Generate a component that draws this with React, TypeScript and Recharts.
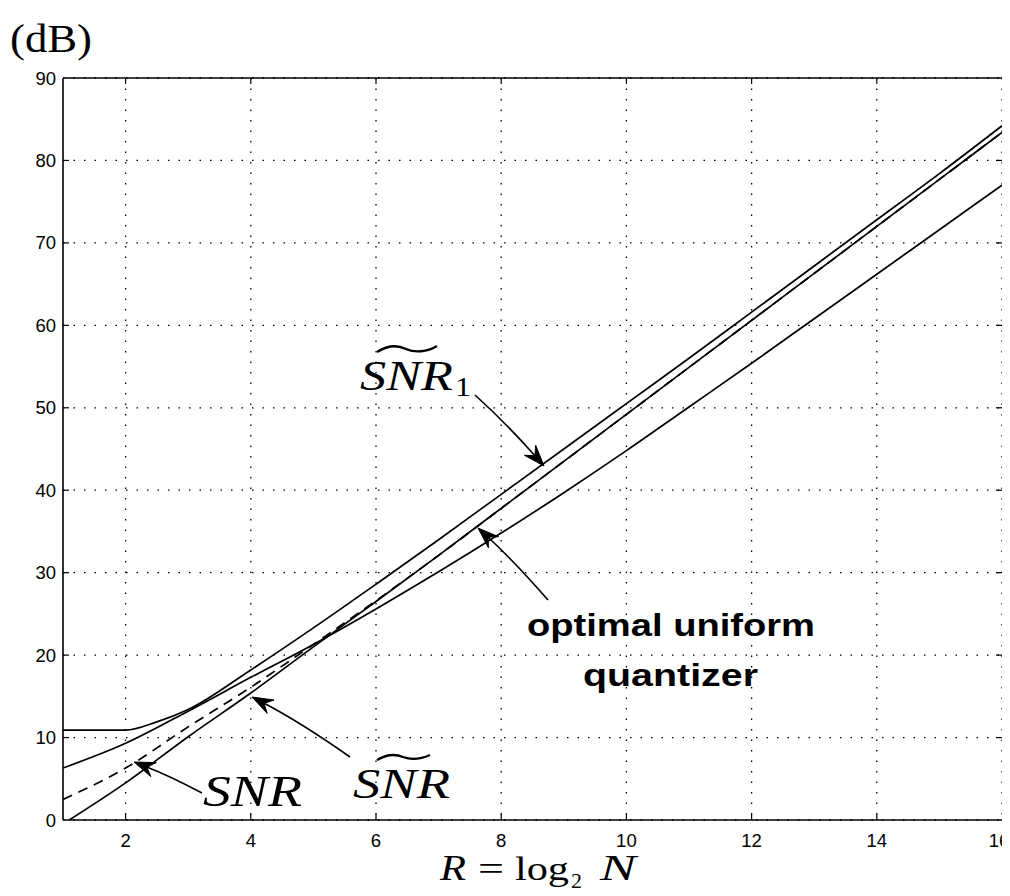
import React from 'react';
import { LineChart, Line, XAxis, YAxis, CartesianGrid, ReferenceLine } from 'recharts';

// ---- data ----
const xTicks = [2, 4, 6, 8, 10, 12, 14, 16];
const yTicks = [0, 10, 20, 30, 40, 50, 60, 70, 80, 90];

const snr1TildeX = [1, 2, 2.5, 3, 4, 5, 6, 7, 8, 9, 10, 11, 12, 13, 14, 15, 16];
const snr1TildeY = [10.9, 10.9, 11.9, 13.4, 18.2, 23.3, 28.6, 34.0, 39.5, 45.0, 50.5, 56.0, 61.6, 67.2, 72.8, 78.4, 84.2];

const uniformX = [1, 2, 3, 4, 5, 6, 7, 8, 9, 10, 11, 12, 13, 14, 15, 16];
const uniformY = [6.3, 9.3, 13.2, 17.3, 21.3, 25.6, 30.1, 34.8, 39.7, 44.8, 50.1, 55.4, 60.8, 66.2, 71.6, 77.0];

const snrX = [1.1, 2, 3, 4, 5, 6, 7, 8, 9, 10, 11, 12, 13, 14, 15, 16];
const snrY = [0, 4.5, 10.1, 15.4, 21.0, 26.5, 32.1, 37.8, 43.5, 49.2, 54.9, 60.6, 66.3, 72.0, 77.7, 83.4];

const snrTildeX = [1, 2, 3, 4, 5, 6, 7, 8, 9, 10, 11, 12, 13, 14, 15, 16];
const snrTildeY = [2.5, 6.3, 11.3, 16.1, 21.3, 26.6, 32.1, 37.8, 43.5, 49.2, 54.9, 60.6, 66.3, 72.0, 77.7, 83.4];

const zip = (xs: number[], ys: number[]) => xs.map((x, i) => ({ x, y: ys[i] }));

// ---- layout ----
const W = 1002;
const H = 880;
const MARGIN = { top: 70, right: 8, left: 0, bottom: 38 };
const Y_AXIS_W = 55;
const X_AXIS_H = 30;
const PLOT_W = W - MARGIN.left - MARGIN.right - Y_AXIS_W;
const PLOT_H = H - MARGIN.top - MARGIN.bottom - X_AXIS_H;

const SANS = '"Liberation Sans", Arial, Helvetica, sans-serif';
const SERIF = '"Liberation Serif", "Times New Roman", serif';

const YTick = (props: any) => {
  const { x, y, payload } = props;
  const v = payload.value;
  const inner = v !== 0 && v !== 90;
  return (
    <g>
      <text x={x - 7} y={y} dy={6.5} textAnchor="end" fontFamily={SANS} fontSize={18.5} fill="#000">
        {v}
      </text>
      {inner && <line x1={x} x2={x + 6} y1={y} y2={y} stroke="#000" strokeWidth={1.2} />}
      {inner && <line x1={x + PLOT_W} x2={x + PLOT_W - 6} y1={y} y2={y} stroke="#000" strokeWidth={1.2} />}
    </g>
  );
};

const XTick = (props: any) => {
  const { x, y, payload } = props;
  const v = payload.value;
  const inner = v !== 16;
  return (
    <g>
      <text x={inner ? x : x - 3} y={y + 27} textAnchor="middle" fontFamily={SANS} fontSize={18.5} fill="#000">
        {v}
      </text>
      {inner && <line x1={x} x2={x} y1={y} y2={y - 6} stroke="#000" strokeWidth={1.2} />}
      {inner && <line x1={x} x2={x} y1={y - PLOT_H} y2={y - PLOT_H + 6} stroke="#000" strokeWidth={1.2} />}
    </g>
  );
};

type Pt = [number, number];
const Arrow = ({ tail, ctrl, tip }: { tail: Pt; ctrl: Pt; tip: Pt }) => {
  const dx = tip[0] - ctrl[0];
  const dy = tip[1] - ctrl[1];
  const len = Math.hypot(dx, dy);
  const ux = dx / len;
  const uy = dy / len;
  const nx = -uy;
  const ny = ux;
  const L = 21;
  const w = 7.5;
  const back: Pt = [tip[0] - ux * L, tip[1] - uy * L];
  const notch: Pt = [tip[0] - ux * L * 0.65, tip[1] - uy * L * 0.65];
  const head = `M${tip[0]},${tip[1]} L${back[0] + nx * w},${back[1] + ny * w} L${notch[0]},${notch[1]} L${back[0] - nx * w},${back[1] - ny * w} Z`;
  return (
    <g>
      <path d={`M${tail[0]},${tail[1]} Q${ctrl[0]},${ctrl[1]} ${notch[0]},${notch[1]}`} fill="none" stroke="#000" strokeWidth={1.6} />
      <path d={head} fill="#000" stroke="#000" strokeWidth={1} />
    </g>
  );
};

const Overlay = () => (
  <svg
    width={1010}
    height={896}
    style={{ position: 'absolute', left: -8, top: -8, pointerEvents: 'none', overflow: 'visible' }}
  >
    {/* (dB) */}
    <text x={10} y={52} fontFamily={SERIF} fontSize={40} textLength={82} lengthAdjust="spacingAndGlyphs" fill="#000">
      (dB)
    </text>

    {/* x label: R = log2 N */}
    <g fill="#000" fontFamily={SERIF}>
      <text x={440} y={880} fontSize={36} fontStyle="italic" textLength={26} lengthAdjust="spacingAndGlyphs">R</text>
      <text x={478} y={880} fontSize={34} textLength={26} lengthAdjust="spacingAndGlyphs">=</text>
      <text x={515} y={880} fontSize={34} textLength={54} lengthAdjust="spacingAndGlyphs">log</text>
      <text x={571} y={888} fontSize={22}>2</text>
      <text x={600} y={880} fontSize={36} fontStyle="italic" textLength={36} lengthAdjust="spacingAndGlyphs">N</text>
    </g>

    {/* SNR~_1 */}
    <g fill="#000" fontFamily={SERIF}>
      <text x={360} y={390} fontSize={42} fontStyle="italic" textLength={93} lengthAdjust="spacingAndGlyphs">SNR</text>
      <text x={455} y={396} fontSize={28} textLength={16} lengthAdjust="spacingAndGlyphs">1</text>
    </g>
    <path d="M377,352 C388,345 398,345 406,349 C415,353 427,352 437,346" fill="none" stroke="#000" strokeWidth={2.4} />

    {/* SNR */}
    <text x={203} y={806} fill="#000" fontFamily={SERIF} fontSize={44} fontStyle="italic" textLength={99} lengthAdjust="spacingAndGlyphs">SNR</text>

    {/* SNR~ */}
    <text x={353} y={798} fill="#000" fontFamily={SERIF} fontSize={42} fontStyle="italic" textLength={97} lengthAdjust="spacingAndGlyphs">SNR</text>
    <path d="M377,760 C387,754 396,754 403,757 C411,760 421,759 430,755" fill="none" stroke="#000" strokeWidth={2.4} />

    {/* optimal uniform quantizer */}
    <text x={527} y={636} fill="#000" fontFamily={SANS} fontWeight="bold" fontSize={32} textLength={288} lengthAdjust="spacingAndGlyphs">optimal uniform</text>
    <text x={583} y={686} fill="#000" fontFamily={SANS} fontWeight="bold" fontSize={32} textLength={175} lengthAdjust="spacingAndGlyphs">quantizer</text>

    {/* arrows */}
    <Arrow tail={[475, 395]} ctrl={[505, 422]} tip={[544, 466]} />
    <Arrow tail={[548, 600]} ctrl={[515, 562]} tip={[478, 528]} />
    <Arrow tail={[350, 757]} ctrl={[300, 722]} tip={[252, 697]} />
    <Arrow tail={[202, 793]} ctrl={[170, 776]} tip={[134, 762]} />
  </svg>
);

export default function App() {
  return (
    <div style={{ position: 'relative', width: W, height: H }}>
      <LineChart width={W} height={H} margin={MARGIN} style={{ overflow: 'visible' }}>
        <CartesianGrid
          stroke="#000"
          strokeWidth={1.3}
          strokeDasharray="1.5 9"
          horizontalValues={yTicks}
          verticalValues={xTicks}
        />
        <XAxis
          type="number"
          dataKey="x"
          domain={[1, 16]}
          ticks={xTicks}
          allowDataOverflow
          height={X_AXIS_H}
          tickLine={false}
          tickSize={0}
          tickMargin={0}
          tick={<XTick />}
          axisLine={{ stroke: '#000', strokeWidth: 1.6 }}
          interval={0}
        />
        <YAxis
          type="number"
          dataKey="y"
          domain={[0, 90]}
          ticks={yTicks}
          allowDataOverflow
          width={Y_AXIS_W}
          tickLine={false}
          tickSize={0}
          tickMargin={0}
          tick={<YTick />}
          axisLine={{ stroke: '#000', strokeWidth: 1.6 }}
          interval={0}
        />
        <ReferenceLine y={90} stroke="#000" strokeWidth={1.6} />
        <Line data={zip(uniformX, uniformY)} dataKey="y" type="monotone" stroke="#000" strokeWidth={1.7} dot={false} isAnimationActive={false} />
        <Line data={zip(snrX, snrY)} dataKey="y" type="monotone" stroke="#000" strokeWidth={1.7} dot={false} isAnimationActive={false} />
        <Line data={zip(snr1TildeX, snr1TildeY)} dataKey="y" type="monotone" stroke="#000" strokeWidth={1.7} dot={false} isAnimationActive={false} />
        <Line data={zip(snrTildeX, snrTildeY)} dataKey="y" type="monotone" stroke="#000" strokeWidth={1.7} strokeDasharray="10 7" dot={false} isAnimationActive={false} />
      </LineChart>
      <Overlay />
    </div>
  );
}
